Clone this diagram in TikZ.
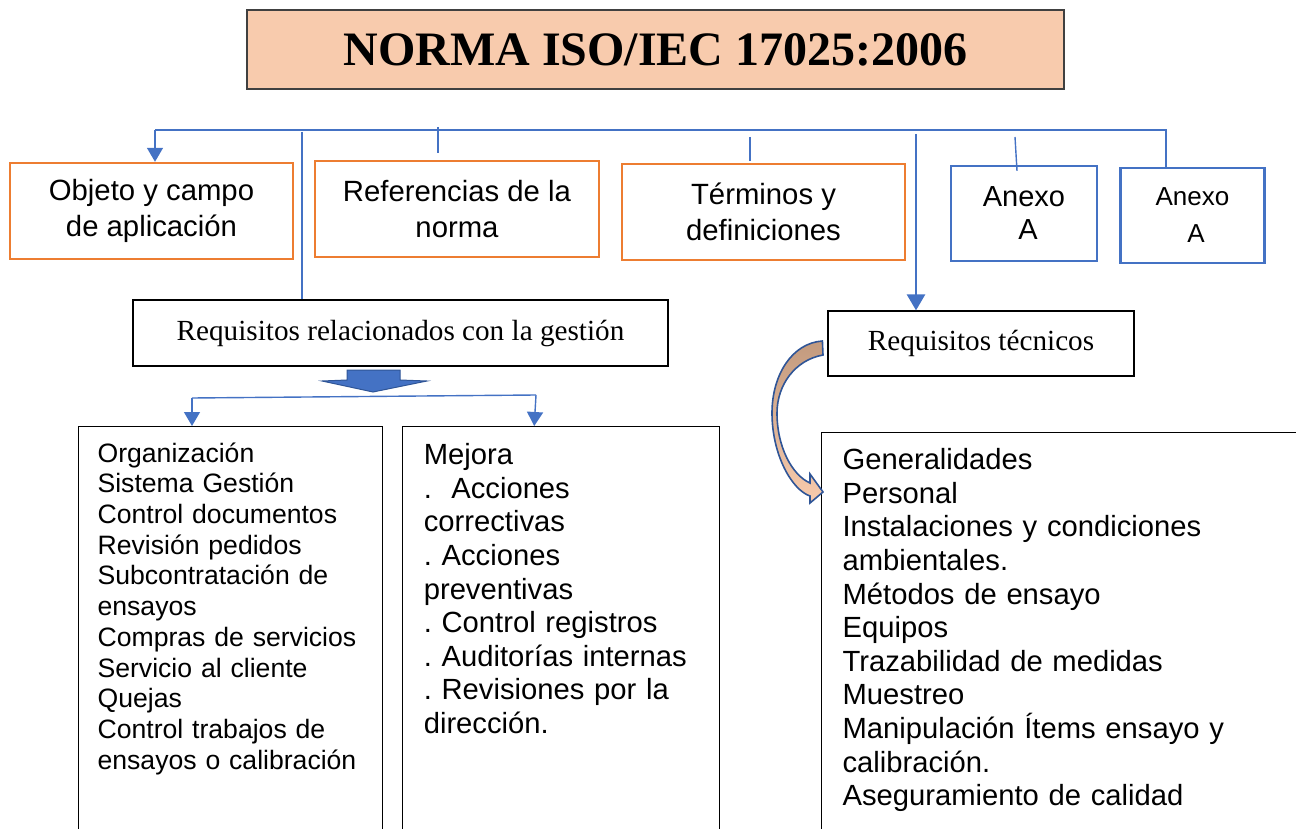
\documentclass[tikz,border=0pt]{standalone}
\usepackage{fontspec}
\setmainfont{Liberation Sans}
\newfontfamily\serifrm{Liberation Serif}
\usetikzlibrary{calc,positioning,arrows.meta}
\definecolor{peach}{HTML}{F8CBAD}
\definecolor{umber}{HTML}{C29A7E}
\definecolor{orng}{HTML}{ED7D31}
\definecolor{ofblue}{HTML}{4472C4}
\definecolor{ofdark}{HTML}{2F5597}
\definecolor{frame}{HTML}{404040}
\frenchspacing
\newcommand{\TitleF}{\serifrm\bfseries\fontsize{48}{54}\selectfont}
\newcommand{\BoxF}{\fontsize{29.3}{35.5}\selectfont}
\newcommand{\AnexF}{\fontsize{29}{33}\selectfont}
\newcommand{\AnexS}{\fontsize{26}{37}\selectfont}
\newcommand{\ReqF}{\serifrm\fontsize{29.2}{34}\selectfont}
\newcommand{\ListS}{\fontsize{26.6}{30.7}\selectfont}
\newcommand{\ListL}{\fontsize{29.2}{33.6}\selectfont}
\tikzset{
  titlebox/.style={draw=frame, line width=1.4pt, fill=peach, font=\TitleF, inner sep=0pt},
  obox/.style={draw=orng, line width=2.4pt, align=center, font=\BoxF, inner sep=0pt},
  bbox/.style={draw=ofblue, line width=2.4pt, align=center, inner sep=0pt},
  reqbox/.style={draw=black, line width=1.2pt, font=\ReqF, inner sep=0pt},
  listbox/.style={draw=black, line width=1.2pt, anchor=north west, align=left, text depth=420pt},
  bus/.style={draw=ofblue, line width=1.4pt},
  busarrow/.style={bus, -{Triangle[length=14pt,width=16pt]}},
  thickarrow/.style={draw=ofblue, line width=2.6pt, -{Triangle[length=16pt,width=18pt]}},
}

\begin{document}
\begin{tikzpicture}[x=1pt,y=-1pt]
  \useasboundingbox (0,0) rectangle (1296,829);
  % title
  \node[titlebox, minimum width=817pt, minimum height=79pt] (title) at (655.5,49.5) {NORMA ISO/IEC 17025:2006};
  % first row
  \node[obox, minimum width=283pt, minimum height=96pt] (obj) at (151.5,211) {Objeto y campo\\de aplicación};
  \node[obox, minimum width=284pt, minimum height=96pt] (ref) at (457,209) {Referencias de la\\norma};
  \node[obox, minimum width=283pt, minimum height=96pt] (term) at (763.5,212) {Términos y\\definiciones};
  \node[bbox, font=\AnexF, minimum width=146pt, minimum height=95pt] (anx1) at (1024,213.5) {Anexo\\\ A};
  \node[bbox, font=\AnexS, minimum width=144pt, minimum height=95pt, right=21pt of anx1.north east, anchor=north west, yshift=-2pt] (anx2) {Anexo\\\ A};
  % requisitos
  \node[reqbox, minimum width=535pt, minimum height=66pt] (gest) at (400.5,333) {Requisitos relacionados con la gestión};
  \node[reqbox, minimum width=306pt, minimum height=65pt] (tecn) at (981,343.5) {Requisitos técnicos};
  % lists
  \node[listbox, font=\ListS, text width=266pt, inner xsep=19pt, inner ysep=16pt] (org) at (78,426)
    {Organización\\Sistema Gestión\\Control documentos\\Revisión pedidos\\Subcontratación de\\ensayos\\Compras de servicios\\Servicio al cliente\\Quejas\\Control trabajos de\\ensayos o calibración};
  \node[listbox, font=\ListL, text width=275pt, inner xsep=21pt, inner ysep=17pt, right=19pt of org.north east, anchor=north west] (mej)
    {Mejora\\.~ Acciones\\correctivas\\. Acciones\\preventivas\\. Control registros\\. Auditorías internas\\. Revisiones por la\\dirección.};
  \node[listbox, font=\ListL, text width=440pt, inner xsep=21pt, inner ysep=16pt] (gen) at (821,432)
    {Generalidades\\Personal\\Instalaciones y condiciones\\ambientales.\\Métodos de ensayo\\Equipos\\Trazabilidad de medidas\\Muestreo\\Manipulación Ítems ensayo y\\calibración.\\Aseguramiento de calidad};
  % top bus
  \coordinate (busL) at (155,130);
  \coordinate (busR) at (1166,130);
  \coordinate (tgest) at (302,132);
  \coordinate (tref) at (438,127);
  \coordinate (tterm) at (750,137);
  \coordinate (ttecn) at (916,134);
  \coordinate (tanx) at (1015,137);
  \draw[bus] (anx2.north -| busR) -- (busR) -- (busL);
  \draw[busarrow] (busL) -- (busL |- obj.north);
  \draw[bus] (tgest) -- (tgest |- gest.north);
  \draw[bus] (tref) -- ($(tref |- ref.north)+(0,-7)$);
  \draw[bus] (tterm) -- ($(tterm |- term.north)+(0,-2)$);
  \draw[bus] (tanx) -- ($(anx1.north)+(-7,6)$);
  \draw[thickarrow] (ttecn) -- (ttecn |- tecn.north);
  % block arrow under gestion
  \draw[fill=ofblue, draw=ofdark, line width=1pt] (347,370) -- (400,370) -- (400,380) -- (427,381)
    -- (373,392) -- (322,381) -- (347,380) -- cycle;
  % lower bus
  \coordinate (lbL) at (192,398);
  \coordinate (lbR) at (536,395);
  \draw[bus] (lbL) -- (lbR);
  \draw[busarrow] (lbL) -- (lbL |- org.north);
  \draw[busarrow] (lbR) -- ($(mej.north west)+(132,0)$);
  % curved arrow
  \draw[draw=ofdark, line width=1.6pt, top color=umber, bottom color=peach, line join=miter]
    ($(tecn.west)+(-5,-2.5)$) .. controls (792,343) and (772,375) .. (772,413)
    .. controls (772,455) and (792,490) .. (810,496) -- (810,503) -- (823,492) -- (810,474) -- (810,483)
    .. controls (792,475) and (777,447) .. (777,413)
    .. controls (777,385) and (795,360) .. (823,355) -- cycle;
\end{tikzpicture}
\end{document}
